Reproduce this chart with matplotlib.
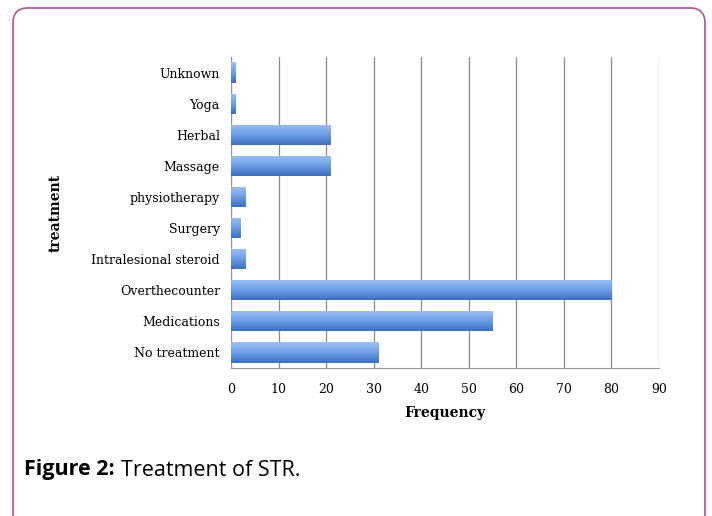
import matplotlib
matplotlib.use('Agg')
import matplotlib.pyplot as plt
import numpy as np
from matplotlib.patches import FancyBboxPatch

# data, bottom to top as drawn
treatments = ['No treatment', 'Medications', 'Overthecounter', 'Intralesional steroid',
              'Surgery', 'physiotherapy', 'Massage', 'Herbal', 'Yoga', 'Unknown']
frequency = [31, 55, 80, 3, 2, 3, 21, 21, 1, 1]
x_ticks = [0, 10, 20, 30, 40, 50, 60, 70, 80, 90]

serif = 'DejaVu Serif'
fig = plt.figure(figsize=(7.12, 5.16), dpi=100)

# rounded frame around the figure
frame = FancyBboxPatch((13 / 712, -0.05), 692 / 712, 1 - 8 / 516 + 0.05,
                       boxstyle='round,pad=0,rounding_size=0.021',
                       transform=fig.transFigure, fill=False,
                       edgecolor='#b0609a', linewidth=1.3, mutation_aspect=712 / 516)
fig.patches.append(frame)

ax = fig.add_axes([231 / 712, 1 - 368 / 516, 428 / 712, 311 / 516])
y = np.arange(len(treatments))
bars = ax.barh(y, frequency, height=0.65, color='#5b8fdc', zorder=3)

# vertical gradient on each bar: lighter top, darker bottom
grad = np.linspace(0, 1, 64).reshape(-1, 1)
cmap = matplotlib.colors.LinearSegmentedColormap.from_list(
    'bar', ['#3c6fbf', '#6d9ee6', '#9cc2f5'])
for b in bars:
    x0, y0 = b.get_x(), b.get_y()
    w, h = b.get_width(), b.get_height()
    im = ax.imshow(grad, cmap=cmap, aspect='auto', origin='lower',
                   extent=(x0, x0 + w, y0, y0 + h), zorder=4)
    im.set_clip_path(b)

ax.set_xlim(0, 90)
ax.set_ylim(-0.5, len(treatments) - 0.5)
ax.set_xticks(x_ticks)
ax.set_xticklabels([str(t) for t in x_ticks], fontsize=9, family=serif)
ax.set_yticks(y)
ax.set_yticklabels(treatments, fontsize=9, family=serif)
ax.tick_params(axis='y', length=0, pad=8)
ax.tick_params(axis='x', length=0, pad=11)
ax.grid(axis='x', color='#8a8a8a', linewidth=0.9, zorder=0)
for s in ['top', 'right']:
    ax.spines[s].set_visible(False)
for s in ['left', 'bottom']:
    ax.spines[s].set_color('#999999')

ax.set_xlabel('Frequency', fontsize=10, fontweight='bold', family=serif, labelpad=7)
ax.set_ylabel('treatment', fontsize=10, fontweight='bold', family=serif)
ax.yaxis.set_label_coords(-0.393, 0.5)

cap_y = 1 - 470 / 516
t1 = fig.text(24 / 712, cap_y, 'Figure 2:', fontsize=15.5, fontweight='bold',
              family='Open Sans', va='center')
fig.canvas.draw()
bb = t1.get_window_extent()
fig.text((bb.x1 + 6) / 712, cap_y, 'Treatment of STR.', fontsize=15.5,
         family='Open Sans', va='center')

fig.savefig('out.png', dpi=100, facecolor='white')
